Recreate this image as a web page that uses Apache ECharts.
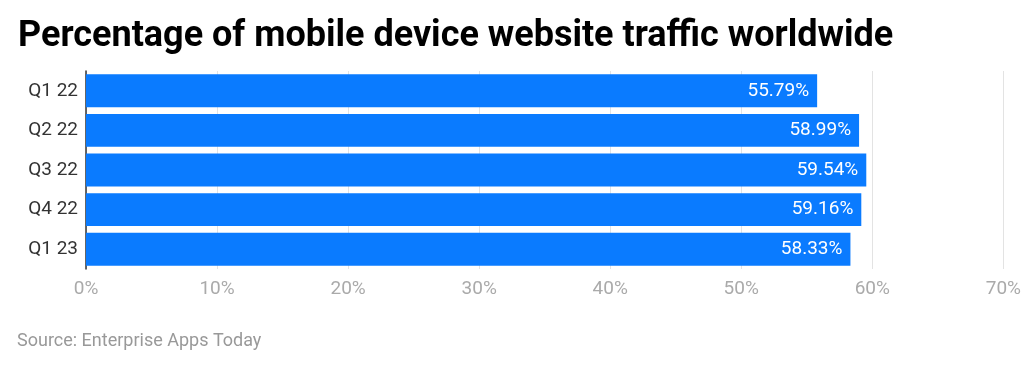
<!DOCTYPE html>
<html><head><meta charset="utf-8">
<script src="https://cdn.jsdelivr.net/npm/echarts@6/dist/echarts.min.js"></script>
<style>html,body{margin:0;padding:0;background:#fff}#c{width:1024px;height:367px}</style>
</head><body><div id="c"></div>
<script>
const categories = ['Q1 22', 'Q2 22', 'Q3 22', 'Q4 22', 'Q1 23'];
const values = [55.79, 58.99, 59.54, 59.16, 58.33];
const titleText = 'Percentage of mobile device website traffic worldwide';
const sourceText = 'Source: Enterprise Apps Today';

const chart = echarts.init(document.getElementById('c'), null, {renderer: 'canvas'});
chart.setOption({
  animation: false,
  textStyle: {fontFamily: 'Roboto'},
  title: [
    {text: titleText, left: 13, top: 14, textStyle: {fontFamily: 'Roboto', fontWeight: 'bold', fontSize: 36, color: '#000'}},
    {text: sourceText, left: 12, top: 327, textStyle: {fontFamily: 'Roboto', fontWeight: 'normal', fontSize: 18, color: '#999'}}
  ],
  grid: {left: 86, right: 18, top: 71, bottom: 98, containLabel: false},
  xAxis: {
    type: 'value', min: 0, max: 70, interval: 10,
    axisLine: {show: false}, axisTick: {show: false},
    splitLine: {show: true, lineStyle: {color: '#e3e3e3', width: 1}},
    axisLabel: {formatter: '{value}%', color: '#aaa', fontSize: 19, margin: 11, fontFamily: 'Roboto'}
  },
  yAxis: {
    type: 'category', data: categories, inverse: true,
    axisLine: {show: true, lineStyle: {color: '#333', width: 1.5}},
    axisTick: {show: false},
    axisLabel: {color: '#333', fontSize: 19, margin: 8, fontFamily: 'Roboto'}
  },
  series: [{
    type: 'bar', data: values, barCategoryGap: '17%',
    itemStyle: {color: '#0a7bff'},
    label: {show: true, position: 'insideRight', formatter: p => p.value.toFixed(2) + '%', color: '#fff', fontSize: 19, fontFamily: 'Roboto', distance: 8}
  }]
});
</script></body></html>
